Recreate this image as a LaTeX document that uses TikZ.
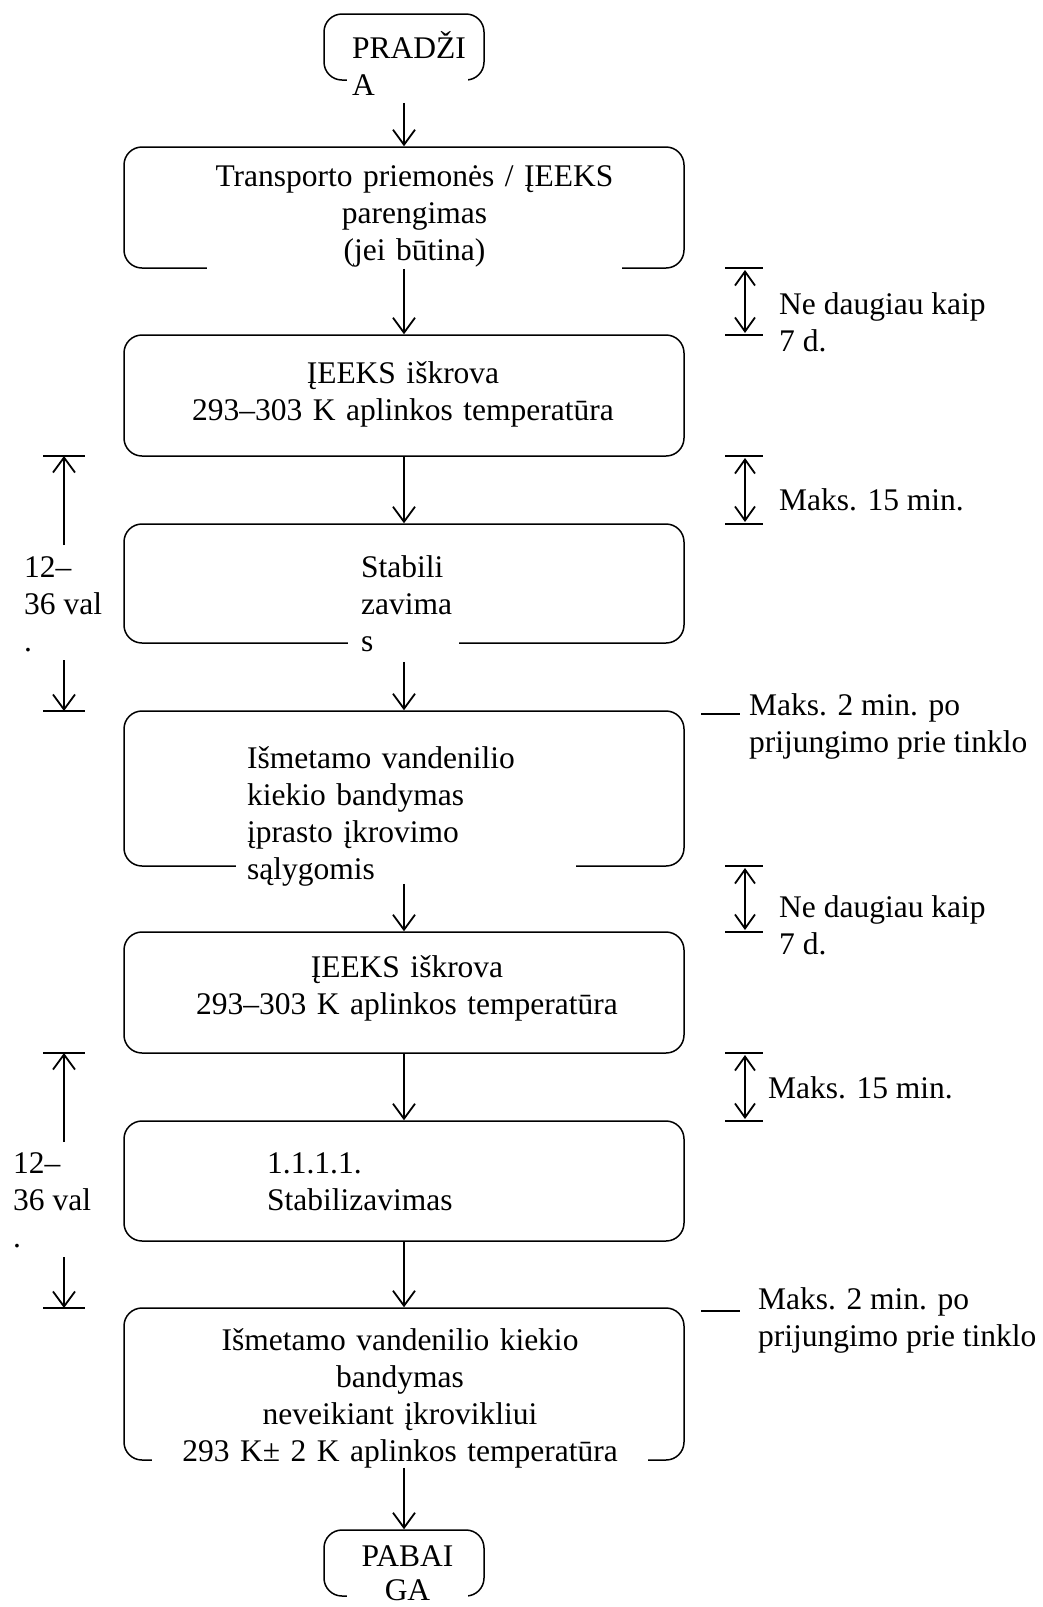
\documentclass[tikz,border=0pt]{standalone}
\usepackage{fontspec}
\setmainfont{Liberation Serif}
\usetikzlibrary{positioning,arrows.meta}
\hyphenpenalty=10000

\begin{document}
\begin{tikzpicture}[x=1pt,y=-1pt,font=\fontsize{31.5}{37}\selectfont]
\tikzstyle{box}=[draw,rectangle,rounded corners=18pt,line width=1.5pt,minimum width=560pt,minimum height=121pt,inner sep=0pt]
\tikzstyle{txt}=[fill=white,inner xsep=0pt,inner ysep=8pt]
\tikzstyle{lbl}=[inner sep=0pt,anchor=base west,align=left]
\tikzstyle{arr}=[-{Straight Barb[length=15pt,width=22pt]},line width=1.8pt]
\tikzstyle{dbl}=[{Straight Barb[length=14pt,width=20pt]}-{Straight Barb[length=14pt,width=20pt]},line width=1.8pt,shorten <=2pt,shorten >=2pt]
\tikzstyle{bar}=[line width=2pt]
\useasboundingbox (0,0) rectangle (1043,1607);

% main column
\node [box, minimum width=160pt, minimum height=66pt] (start) at (404,47) {};
\node [txt, inner xsep=5pt, text width=111pt, align=left, anchor=base west] (startt) at (347,58) {PRADŽI\\A};
\node [box] (prep) at (404,207.5) {};
\node [txt, text width=415pt, align=center, anchor=base] (prept) at (414.5,186) {Transporto priemonės / ĮEEKS\\parengimas\\(jei būtina)};
\node [box] (dis1) at (404,395.5) {};
\node [txt, text width=460pt, align=center, anchor=base] (dis1t) at (403,383) {ĮEEKS iškrova\\293–303 K aplinkos temperatūra};
\node [box, minimum height=119pt] (stab1) at (404,583.5) {};
\node [txt, inner xsep=13pt, text width=85pt, align=left, anchor=base west] (stab1t) at (348,577) {Stabili\\zavima\\s};
\node [box, minimum height=155pt] (test1) at (404,788.5) {};
\node [txt, inner xsep=11pt, text width=318pt, align=left, anchor=base west] (test1t) at (236,768) {Išmetamo vandenilio\\kiekio bandymas\\įprasto įkrovimo\\sąlygomis};
\node [box] (dis2) at (404,992.5) {};
\node [txt, text width=460pt, align=center, anchor=base] (dis2t) at (407,977) {ĮEEKS iškrova\\293–303 K aplinkos temperatūra};
\node [box, minimum height=120pt] (stab2) at (404,1181) {};
\node [txt, text width=250pt, align=left, anchor=base west] (stab2t) at (267,1173) {1.1.1.1.\\Stabilizavimas};
\node [box, minimum height=152pt] (test2) at (404,1384) {};
\node [txt, text width=496pt, align=center, anchor=base] (test2t) at (400,1350) {Išmetamo vandenilio kiekio\\bandymas\\neveikiant įkrovikliui\\293 K± 2 K aplinkos temperatūra};
\node [box, minimum width=160pt, minimum height=66pt] (finish) at (404,1563) {};
\node [txt, text width=121pt, align=center, anchor=base, font=\fontsize{31.5}{34}\selectfont] (finisht) at (407.5,1566) {PABAI\\GA};

\draw [arr, shorten <=22pt] (start) -- (prep);
\draw [arr] (prep) -- (dis1);
\draw [arr] (dis1) -- (stab1);
\draw [arr, shorten <=18pt] (stab1) -- (test1);
\draw [arr, shorten <=17pt] (test1) -- (dis2);
\draw [arr] (dis2) -- (stab2);
\draw [arr] (stab2) -- (test2);
\draw [arr, shorten <=7pt] (test2) -- (finish);

% right side time marks
\foreach \t/\b in {268/335, 456/524, 866/932, 1053/1121} {
  \coordinate (rt) at (745,\t);
  \coordinate (rb) at (745,\b);
  \draw [bar] (725,\t) -- (763,\t);
  \draw [bar] (725,\b) -- (763,\b);
  \draw [dbl] (rt) -- (rb);
}
\draw [bar] (701,714) -- (740,714);
\draw [bar] (701,1311) -- (740,1311);
\node [lbl] (r1) at (779,351) {Ne daugiau kaip\\7 d.};
\node [lbl] (r2) at (779,510) {Maks. 15 min.};
\node [lbl] (r3) at (749,752) {Maks. 2 min. po\\prijungimo prie tinklo};
\node [lbl] (r4) at (779,954) {Ne daugiau kaip\\7 d.};
\node [lbl] (r5) at (768,1098) {Maks. 15 min.};
\node [lbl] (r6) at (758,1346) {Maks. 2 min. po\\prijungimo prie tinklo};

% left side time marks
\foreach \t/\b/\u/\d in {456/711/545/660, 1053/1308/1142/1257} {
  \coordinate (lt) at (64,\t);
  \coordinate (lb) at (64,\b);
  \coordinate (lu) at (64,\u);
  \coordinate (ld) at (64,\d);
  \draw [bar] (43,\t) -- (85,\t);
  \draw [bar] (43,\b) -- (85,\b);
  \draw [arr] (lu) -- (lt);
  \draw [arr] (ld) -- (lb);
}
\node [lbl] (l1) at (24,651) {12–\\36 val\\.};
\node [lbl] (l2) at (13,1247) {12–\\36 val\\.};
\end{tikzpicture}
\end{document}
